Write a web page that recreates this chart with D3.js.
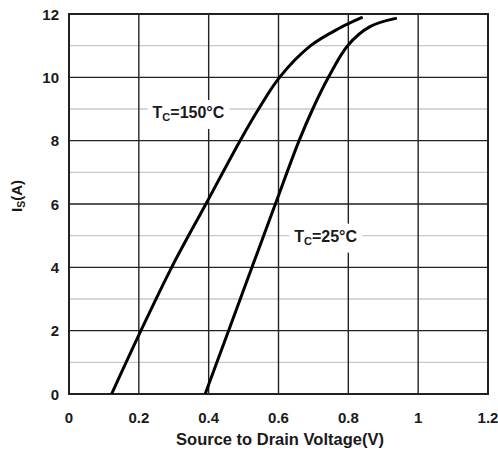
<!DOCTYPE html>
<html>
<head>
<meta charset="utf-8">
<script src="https://cdn.jsdelivr.net/npm/d3@7"></script>
<style>
  body { margin: 0; background: #fff; }
  svg text { font-family: "Liberation Sans", Arial, sans-serif; font-weight: bold; fill: #1a1a1a; }
</style>
</head>
<body>
<div id="chart"></div>
<script>
// source-drain diode forward voltage
const xTicks = [0, 0.2, 0.4, 0.6, 0.8, 1, 1.2]
const xTickLabels = ['0', '0.2', '0.4', '0.6', '0.8', '1', '1.2']
const yMajor = [0, 2, 4, 6, 8, 10, 12]
const yMinor = [1, 3, 5, 7, 9, 11]

const v150 = [0.122, 0.206, 0.294, 0.392, 0.49, 0.543, 0.603, 0.692, 0.774, 0.841]
const i150 = [0, 2, 4, 6, 8, 9, 10, 11, 11.55, 11.9]

const v25 = [0.39, 0.457, 0.524, 0.591, 0.659, 0.698, 0.743, 0.798, 0.862, 0.939]
const i25 = [0, 2, 4, 6, 8, 9, 10, 11, 11.6, 11.87]

// annotation text and where it sits (V, A)
const labels = [
    {main: 'T', sub: 'C', rest: '=150°C', v: 0.342, i: 9, dy: 9},
    {main: 'T', sub: 'C', rest: '=25°C', v: 0.735, i: 5, dy: 6}
]

const margin = {left: 69, top: 14, right: 10, bottom: 61}
const W = 498, H = 455

const x = d3.scaleLinear([0, 1.2], [margin.left, W - margin.right])
const y = d3.scaleLinear([0, 12], [H - margin.bottom, margin.top])

const svg = d3.select('#chart').append('svg')
    .attr('width', W)
    .attr('height', H)

// minor grid (grey)
svg.selectAll('.minor')
    .data(yMinor).enter()
    .append('line')
    .attr('class', 'minor')
    .attr('x1', x(0)).attr('x2', x(1.2))
    .attr('y1', d => y(d)).attr('y2', d => y(d))
    .attr('stroke', '#c8c8c8')
    .attr('stroke-width', 1.3)

// major grid
svg.selectAll('.hgrid')
    .data(yMajor).enter()
    .append('line')
    .attr('x1', x(0)).attr('x2', x(1.2))
    .attr('y1', d => y(d)).attr('y2', d => y(d))
    .attr('stroke', '#222')
    .attr('stroke-width', 1.4)

svg.selectAll('.vgrid')
    .data(xTicks).enter()
    .append('line')
    .attr('x1', d => x(d)).attr('x2', d => x(d))
    .attr('y1', y(0)).attr('y2', y(12))
    .attr('stroke', '#222')
    .attr('stroke-width', 1.4)

svg.append('rect')
    .attr('x', x(0)).attr('y', y(12))
    .attr('width', x(1.2) - x(0)).attr('height', y(0) - y(12))
    .attr('fill', 'none')
    .attr('stroke', '#222')
    .attr('stroke-width', 2)

// curve annotations with white boxes behind them
labels.forEach(l => {
    const g = svg.append('g')
        .attr('transform', `translate(${x(l.v)},${y(l.i)})`)
    const t = g.append('text')
        .attr('text-anchor', 'middle')
        .attr('y', l.dy)
        .attr('font-size', 16)
    t.append('tspan').text(l.main)
    t.append('tspan').text(l.sub).attr('font-size', 11).attr('dy', 3)
    t.append('tspan').text(l.rest).attr('dy', -3)
    const b = t.node().getBBox()
    g.insert('rect', 'text')
        .attr('x', b.x - 5).attr('y', b.y - 4)
        .attr('width', b.width + 10).attr('height', b.height + 10)
        .attr('fill', '#fff')
})

const line = d3.line()
    .x(d => x(d[0]))
    .y(d => y(d[1]))
    .curve(d3.curveCatmullRom.alpha(0.5))

svg.append('path')
    .datum(d3.zip(v150, i150))
    .attr('d', line)
    .attr('fill', 'none')
    .attr('stroke', '#000')
    .attr('stroke-width', 3)

svg.append('path')
    .datum(d3.zip(v25, i25))
    .attr('d', line)
    .attr('fill', 'none')
    .attr('stroke', '#000')
    .attr('stroke-width', 3)

// tick labels
svg.selectAll('.xlab')
    .data(xTicks).enter()
    .append('text')
    .attr('x', d => x(d))
    .attr('y', 423)
    .attr('text-anchor', 'middle')
    .attr('font-size', 15)
    .text((d, i) => xTickLabels[i])

svg.selectAll('.ylab')
    .data(yMajor).enter()
    .append('text')
    .attr('x', margin.left - 10)
    .attr('y', d => y(d) + 5.5)
    .attr('text-anchor', 'end')
    .attr('font-size', 15)
    .text(d => d)

svg.append('text')
    .attr('x', 280)
    .attr('y', 445)
    .attr('text-anchor', 'middle')
    .attr('font-size', 16.5)
    .text('Source to Drain Voltage(V)')

const yt = svg.append('text')
    .attr('transform', `translate(22,196) rotate(-90)`)
    .attr('text-anchor', 'middle')
    .attr('font-size', 15)
yt.append('tspan').text('I')
yt.append('tspan').text('S').attr('font-size', 10.5).attr('dy', 3)
yt.append('tspan').text('(A)').attr('dy', -3)
</script>
</body>
</html>
